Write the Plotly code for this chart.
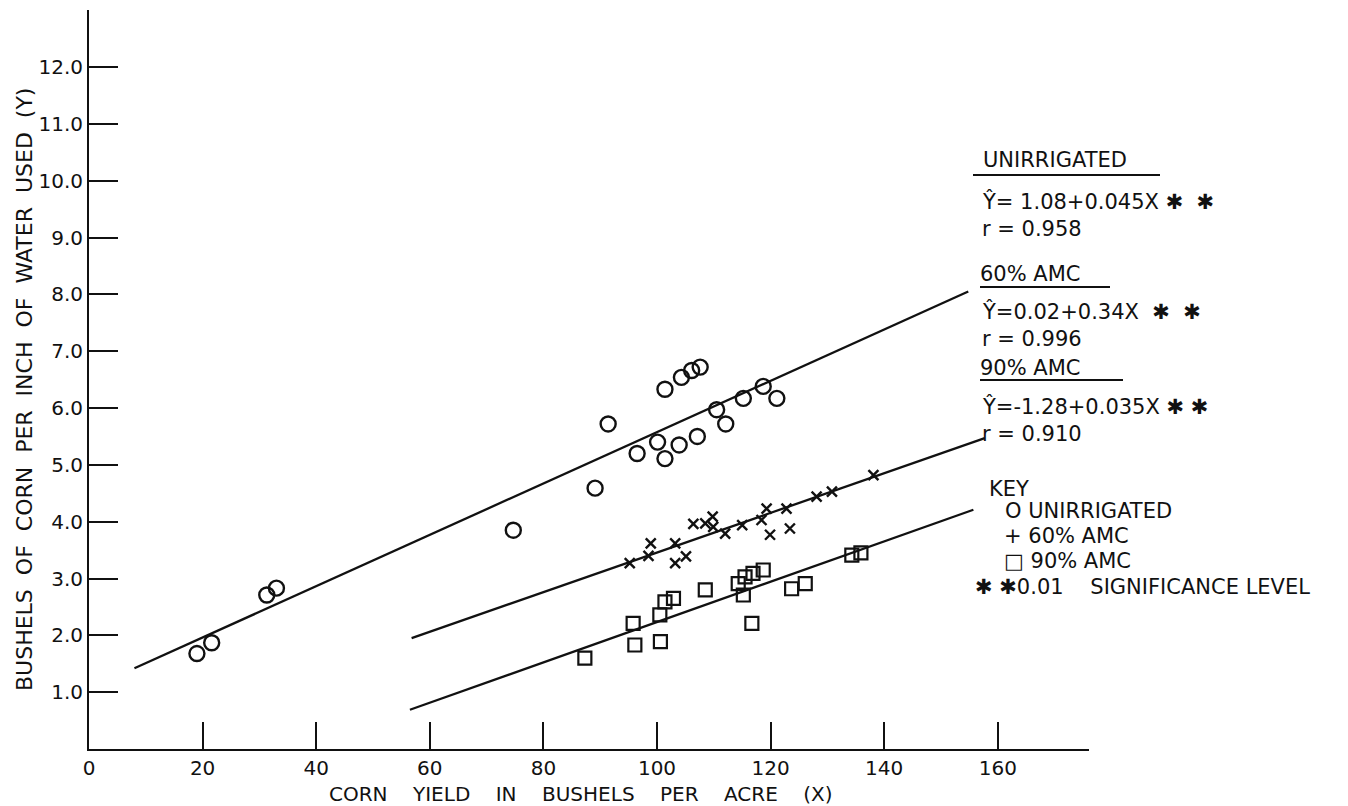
import plotly.graph_objects as go

# ---------------- data ----------------
unirr_x = [19.0, 21.6, 31.3, 33.0, 74.7, 89.1, 91.4, 96.5, 100.1, 101.4, 101.4,
           103.9, 104.3, 106.1, 107.1, 107.6, 110.5, 112.1, 115.2, 118.7, 121.1]
unirr_y = [1.68, 1.87, 2.71, 2.83, 3.85, 4.59, 5.72, 5.20, 5.40, 5.11, 6.33,
           5.35, 6.54, 6.66, 5.50, 6.72, 5.97, 5.72, 6.17, 6.38, 6.17]

amc60_x = [95.2, 98.5, 98.9, 103.2, 105.1, 103.2, 106.4, 108.5, 109.8, 109.9,
           112.0, 115.0, 118.4, 119.3, 122.8, 119.9, 123.4, 128.1, 130.8, 138.1]
amc60_y = [3.27, 3.40, 3.62, 3.27, 3.39, 3.62, 3.96, 3.97, 4.09, 3.91,
           3.79, 3.94, 4.03, 4.23, 4.23, 3.77, 3.88, 4.44, 4.53, 4.82]

amc90_x = [87.3, 95.8, 96.1, 100.6, 100.5, 101.4, 102.9, 108.5, 114.3, 115.5,
           116.9, 118.7, 115.2, 116.7, 123.7, 126.1, 134.3, 135.9]
amc90_y = [1.60, 2.21, 1.83, 1.89, 2.36, 2.59, 2.65, 2.80, 2.91, 3.03,
           3.09, 3.15, 2.71, 2.21, 2.82, 2.91, 3.41, 3.45]

# regression lines (end points as drawn)
unirr_line_x = [8.0, 154.8]
unirr_line_y = [1.42, 8.05]
amc60_line_x = [56.8, 157.7]
amc60_line_y = [1.95, 5.47]
amc90_line_x = [56.5, 155.7]
amc90_line_y = [0.69, 4.21]

x_ticks = [0, 20, 40, 60, 80, 100, 120, 140, 160]
y_ticks = [1, 2, 3, 4, 5, 6, 7, 8, 9, 10, 11, 12]
y_tick_text = ["1.0", "2.0", "3.0", "4.0", "5.0", "6.0", "7.0", "8.0", "9.0", "10.0", "11.0", "12.0"]

# ---------------- layout geometry ----------------
OFF = 8                      # page body margin in the browser
W, H = 1348 - OFF, 806 - OFF
AX_X, AX_Y = 89, 749         # page pixel position of the axes origin
AX_R, AX_T = 1089, 10        # page pixel right end / top end of the axes
L, T = AX_X - OFF, AX_T - OFF
R, B = W - (AX_R - OFF), H - (AX_Y - OFF)
PW, PH = W - L - R, H - T - B
X_PER_UNIT = 5.68
Y_PER_UNIT = 56.83

INK = "#111111"
FONT = "DejaVu Sans"


def px(x):
    """page x pixel -> paper fraction"""
    return (x - AX_X) / PW


def py(y):
    """page y pixel -> paper fraction"""
    return (AX_Y - y) / PH


fig = go.Figure()

for lx, ly in [(unirr_line_x, unirr_line_y), (amc60_line_x, amc60_line_y), (amc90_line_x, amc90_line_y)]:
    fig.add_trace(go.Scatter(x=lx, y=ly, mode="lines", line=dict(color=INK, width=2.3),
                             showlegend=False, hoverinfo="skip"))

fig.add_trace(go.Scatter(x=unirr_x, y=unirr_y, mode="markers", name="UNIRRIGATED",
                         marker=dict(symbol="circle-open", size=15, color=INK, line=dict(width=2.4, color=INK)),
                         showlegend=False))
fig.add_trace(go.Scatter(x=amc60_x, y=amc60_y, mode="markers", name="60% AMC",
                         marker=dict(symbol="x-thin-open", size=10, color=INK, line=dict(width=2.4, color=INK)),
                         showlegend=False))
fig.add_trace(go.Scatter(x=amc90_x, y=amc90_y, mode="markers", name="90% AMC",
                         marker=dict(symbol="square-open", size=13, color=INK, line=dict(width=2.2, color=INK)),
                         showlegend=False))

annotations = []


def txt(s, x, y, size=21, xanchor="left", **kw):
    annotations.append(dict(text=s, x=px(x), y=py(y), xref="paper", yref="paper",
                            xanchor=xanchor, yanchor="middle", showarrow=False, borderpad=0,
                            font=dict(family=FONT, size=size, color=INK), **kw))


sp = "\u00a0"
star = "\u2731"

txt("UNIRRIGATED", 982, 160)
txt("Ŷ=" + sp + "1.08+0.045X" + sp + star + sp + sp + star, 981, 201)
txt("r" + sp + "=" + sp + "0.958", 981, 229)
txt("60%" + sp + "AMC", 979, 274)
txt("Ŷ=0.02+0.34X" + sp + sp + star + sp + sp + star, 981, 311)
txt("r" + sp + "=" + sp + "0.996", 981, 339)
txt("90%" + sp + "AMC", 979, 368)
txt("Ŷ=-1.28+0.035X" + sp + star + sp + star, 981, 406)
txt("r" + sp + "=" + sp + "0.910", 981, 434)

txt("KEY", 988, 489)
txt("O" + sp + "UNIRRIGATED", 1004, 511)
txt("+" + sp + "60%" + sp + "AMC", 1003, 536)
txt("□" + sp + "90%" + sp + "AMC", 1003, 561)
txt(star + sp + star + "0.01" + sp * 4 + "SIGNIFICANCE" + sp + "LEVEL", 974, 587)

# axis titles
g = sp * 4
txt("CORN" + g + "YIELD" + g + "IN" + g + "BUSHELS" + g + "PER" + g + "ACRE" + g + "(X)", 581, 794,
    size=20, xanchor="center")
g2 = sp * 2
annotations.append(dict(text="BUSHELS" + g2 + "OF" + g2 + "CORN" + g2 + "PER" + g2 + "INCH" + g2 + "OF" + g2 +
                        "WATER" + g2 + "USED" + g2 + "(Y)",
                        x=px(24), y=py(390), xref="paper", yref="paper", textangle=-90,
                        xanchor="center", yanchor="middle", showarrow=False, borderpad=0,
                        font=dict(family=FONT, size=22, color=INK)))

shapes = []
for (x0, x1, y0) in [(973, 1160, 175), (980, 1110, 287), (980, 1123, 380)]:
    shapes.append(dict(type="line", xref="paper", yref="paper", x0=px(x0), x1=px(x1), y0=py(y0), y1=py(y0),
                       line=dict(color=INK, width=2)))

fig.update_layout(
    width=W, height=H,
    margin=dict(l=L, r=R, t=T, b=B, autoexpand=False),
    paper_bgcolor="white", plot_bgcolor="white",
    font=dict(family=FONT, size=20, color=INK),
    annotations=annotations, shapes=shapes,
    showlegend=False,
    xaxis=dict(range=[0, PW / X_PER_UNIT], showgrid=False, zeroline=False, showline=True,
               linecolor=INK, linewidth=2, ticks="inside", ticklen=27, tickwidth=1.8, tickcolor=INK,
               tickvals=x_ticks, ticktext=[str(v) for v in x_ticks],
               tickfont=dict(family=FONT, size=20, color=INK)),
    yaxis=dict(range=[0, PH / Y_PER_UNIT], showgrid=False, zeroline=False, showline=True,
               linecolor=INK, linewidth=2, ticks="inside", ticklen=29, tickwidth=1.8, tickcolor=INK,
               tickvals=y_ticks, ticktext=y_tick_text,
               tickfont=dict(family=FONT, size=20, color=INK)),
)

fig.write_html("out.html")
